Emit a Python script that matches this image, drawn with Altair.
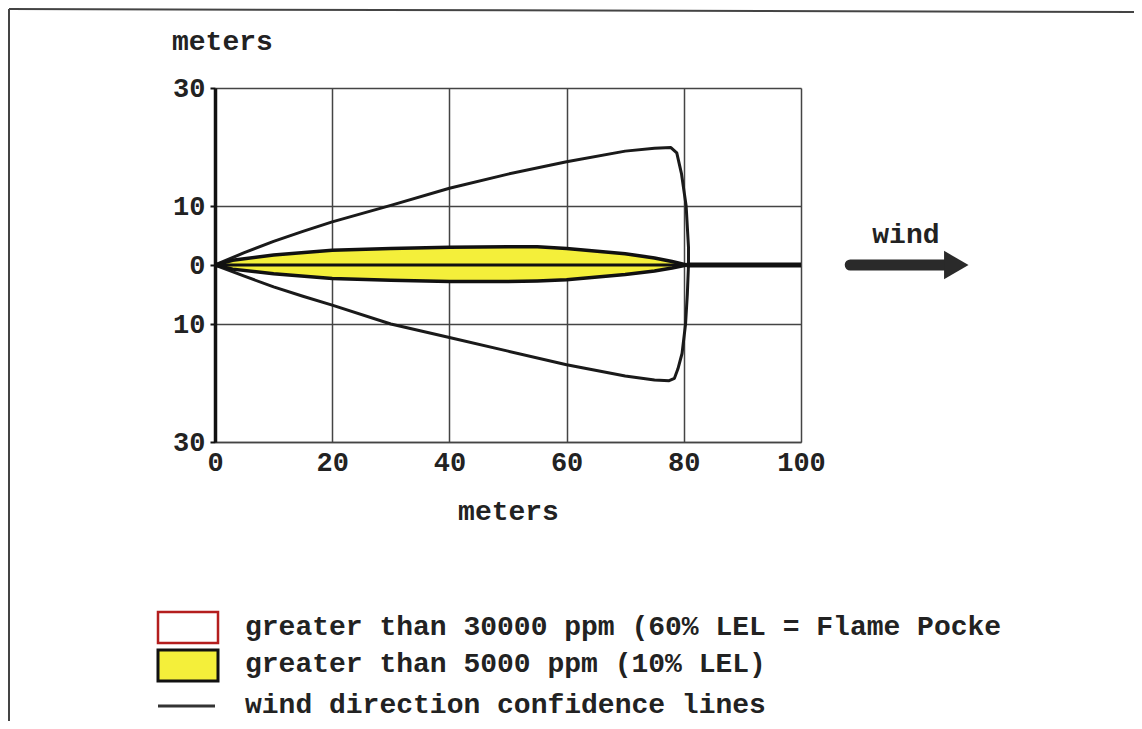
import altair as alt
import pandas as pd

FONT = "Liberation Mono"

# Wind-direction confidence line (one closed path, in drawing order)
conf_x = [0, 5, 10, 15, 20, 30, 40, 50, 60, 70, 75, 77.8, 78.8, 79.6, 80.4, 80.8, 80.8, 80.6, 80.3, 79.7, 79.0,
          78.4, 77.5, 75, 70, 60, 50, 40, 30, 20, 15, 10, 5, 0]
conf_y = [0, 2.1, 4.0, 5.7, 7.3, 10.1, 13.0, 15.4, 17.5, 19.3, 19.8, 19.9, 19.0, 15.5, 10, 3, 0, -5, -10, -15, -17.6,
          -19.2, -19.6, -19.5, -18.8, -16.9, -14.6, -12.3, -10.0, -6.8, -5.3, -3.7, -1.9, 0]

# Yellow threat zone (> 5000 ppm)
plume_x = [0, 3, 10, 20, 30, 40, 50, 55, 60, 70, 75, 78, 80.5]
plume_hi = [0, 0.8, 1.7, 2.5, 2.8, 3.0, 3.1, 3.1, 2.8, 1.9, 1.2, 0.6, 0]
plume_lo = [0, -0.7, -1.5, -2.3, -2.6, -2.8, -2.8, -2.7, -2.5, -1.6, -1.0, -0.5, 0]

x_ticks = [0, 20, 40, 60, 80, 100]
y_ticks = [-30, -10, 0, 10, 30]

legend_labels = [
    "greater than 30000 ppm (60% LEL = Flame Pocke",
    "greater than 5000 ppm (10% LEL)",
    "wind direction confidence lines",
]

conf_df = pd.DataFrame({"x": conf_x, "y": conf_y, "o": list(range(len(conf_x)))})
plume_df = pd.DataFrame({"x": plume_x, "hi": plume_hi, "lo": plume_lo})

xs = alt.Scale(domain=[0, 100], nice=False, zero=False)
ys = alt.Scale(domain=[-30, 30], nice=False, zero=False)

TXT = 28
TICK = 27

x_axis = alt.Axis(values=x_ticks, grid=True, gridColor="#444", gridWidth=1.5, ticks=False,
                  domain=True, domainColor="#444", domainWidth=1.5, labelFlush=False,
                  labelFont=FONT, labelFontWeight="bold", labelFontSize=TICK, labelColor="#222",
                  labelPadding=7, title="meters", titleFont=FONT, titleFontWeight="bold",
                  titleFontSize=TXT, titleColor="#222", titlePadding=22)
y_axis = alt.Axis(values=y_ticks, grid=True, gridColor="#444", gridWidth=1.5,
                  ticks=True, tickSize=5, tickWidth=2, tickColor="#111",
                  domain=True, domainColor="#111", domainWidth=3.5, labelFlush=False,
                  labelExpr="abs(datum.value)", labelFont=FONT, labelFontWeight="bold",
                  labelFontSize=TICK, labelColor="#222", labelPadding=5, title=None)

base_axes = alt.Chart(pd.DataFrame({"x": [0], "y": [0]})).mark_point(opacity=0).encode(
    x=alt.X("x:Q", scale=xs, axis=x_axis),
    y=alt.Y("y:Q", scale=ys, axis=y_axis),
)

plume = alt.Chart(plume_df).mark_area(color="#f4ef3a", stroke="#111", strokeWidth=3.5).encode(
    x=alt.X("x:Q", scale=xs), y=alt.Y("hi:Q", scale=ys), y2="lo:Q"
)

center = alt.Chart(pd.DataFrame({"x": [0, 80.5], "x2": [80.5, 100], "w": [3, 5]})).mark_rule(color="#111").encode(
    x=alt.X("x:Q", scale=xs), x2="x2:Q", y=alt.datum(0, scale=ys), strokeWidth=alt.StrokeWidth("w:Q", scale=None)
)

conf = alt.Chart(conf_df).mark_line(color="#1a1a1a", strokeWidth=3, strokeJoin="round").encode(
    x=alt.X("x:Q", scale=xs), y=alt.Y("y:Q", scale=ys), order="o:Q"
)

# wind arrow
arrow_shaft = alt.Chart(pd.DataFrame({"x": [108.4], "x2": [124.5]})).mark_rule(
    color="#2a2a2a", strokeWidth=11, strokeCap="round").encode(
    x=alt.X("x:Q", scale=xs), x2="x2:Q", y=alt.datum(0, scale=ys))
arrow_head = alt.Chart(pd.DataFrame({"x": [126.5]})).mark_point(
    shape="triangle-right", filled=True, color="#2a2a2a", size=800, opacity=1).encode(
    x=alt.X("x:Q", scale=xs), y=alt.datum(0, scale=ys))
wind_txt = alt.Chart(pd.DataFrame({"x": [117.9], "t": ["wind"]})).mark_text(
    font=FONT, fontWeight="bold", fontSize=TXT, color="#222").encode(
    x=alt.X("x:Q", scale=xs), y=alt.datum(5.1, scale=ys), text="t:N")

# y-axis title
ytitle = alt.Chart(pd.DataFrame({"t": ["meters"]})).mark_text(
    font=FONT, fontWeight="bold", fontSize=TXT, color="#222", align="left", baseline="middle").encode(
    x=alt.value(-43), y=alt.value(-46), text="t:N")

# legend
leg_red = alt.Chart(pd.DataFrame({"a": [0]})).mark_rect(fill="white", stroke="#b41e1e", strokeWidth=2.5).encode(
    x=alt.value(-57), x2=alt.value(3), y=alt.value(524), y2=alt.value(555))
leg_yel = alt.Chart(pd.DataFrame({"a": [0]})).mark_rect(fill="#f4ef3a", stroke="#111", strokeWidth=3).encode(
    x=alt.value(-57), x2=alt.value(3), y=alt.value(562), y2=alt.value(593))
leg_line = alt.Chart(pd.DataFrame({"a": [0]})).mark_rule(color="#333", strokeWidth=3).encode(
    x=alt.value(-57), x2=alt.value(0), y=alt.value(618))
leg_text = alt.Chart(pd.DataFrame({"t": legend_labels, "yy": [539, 576, 617]})).mark_text(
    font=FONT, fontWeight="bold", fontSize=TXT, color="#222", align="left", baseline="middle").encode(
    x=alt.value(30), y=alt.Y("yy:Q", scale=None), text="t:N")

# outer frame (top and left edges)
frame_top = alt.Chart(pd.DataFrame({"a": [0]})).mark_rule(color="#444", strokeWidth=2).encode(
    x=alt.value(-206), x2=alt.value(927), y=alt.value(-79), y2=alt.value(-76))
frame_left = alt.Chart(pd.DataFrame({"a": [0]})).mark_rule(color="#444", strokeWidth=2).encode(
    x=alt.value(-206), y=alt.value(-79), y2=alt.value(640))

chart = alt.layer(
    base_axes, conf, plume, center, arrow_shaft, arrow_head, wind_txt, ytitle,
    leg_red, leg_yel, leg_line, leg_text, frame_top, frame_left,
).properties(
    width=586, height=354,
    autosize=alt.AutoSizeParams(type="none"),
    padding={"left": 207, "top": 80, "right": 333, "bottom": 279},
).configure_view(stroke="#444", strokeWidth=1.5).configure(background="white")

chart.save("out.html", embed_options={"renderer": "svg", "actions": False})
